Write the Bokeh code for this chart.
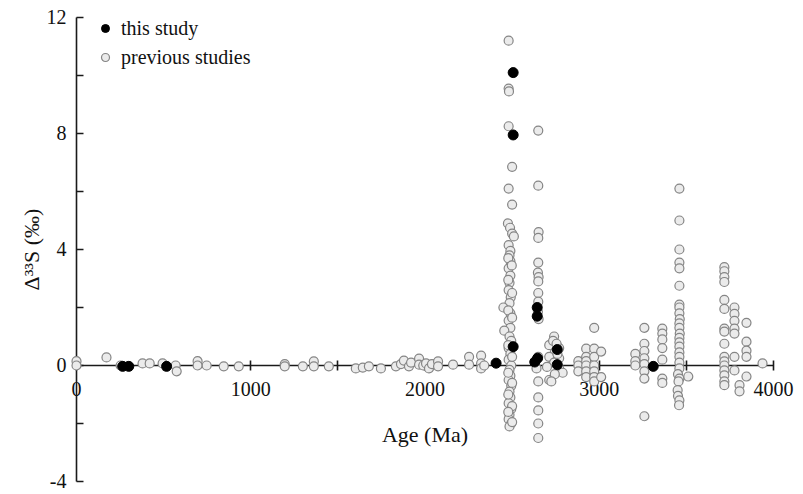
from bokeh.plotting import figure
from bokeh.models import LinearAxis, FixedTicker, Legend, LegendItem, ColumnDataSource
from bokeh.embed import file_html
from bokeh.resources import INLINE

# ---------------- data (age in Ma, Δ33S in ‰) ----------------
x_major_ticks = [0, 1000, 2000, 3000, 4000]
x_minor_ticks = [500, 1500, 2500, 3500]
y_major_ticks = [-4, 0, 4, 8, 12]
y_minor_ticks = [-2, 2, 6, 10]
y_tick_labels = {-4: "-4", 0: "0", 4: "4", 8: "8", 12: "12"}

this_study = [
    (265, -0.03), (300, -0.03), (517, -0.03), (2408, 0.08), (2506, 10.1),
    (2506, 7.95), (2506, 0.65), (2644, 2.0), (2644, 1.7), (2646, 0.25),
    (2630, 0.12), (2759, 0.55), (2759, 0.03), (3310, -0.03),
]

prev_baseline = [
    (0, 0.15), (0, 0.0), (172, 0.28), (253, 0.0), (379, 0.07), (420, 0.07),
    (494, 0.07), (569, 0.0), (575, -0.2), (695, 0.15), (695, 0.0), (747, 0.0),
    (845, -0.03), (931, -0.03), (1195, 0.05), (1195, -0.03), (1299, -0.03),
    (1362, 0.14), (1362, -0.03), (1448, -0.03), (1603, -0.1), (1643, -0.07),
    (1678, -0.03), (1747, -0.1), (1833, -0.03), (1862, 0.05), (1879, 0.17),
    (1908, -0.03), (1920, 0.1), (1966, 0.24), (1966, 0.03), (1990, 0.0),
    (2006, 0.07), (2023, -0.1), (2040, 0.05), (2075, 0.14), (2075, -0.03),
    (2161, 0.03), (2253, 0.3), (2253, 0.03), (2322, 0.34), (2322, 0.07),
    (2322, -0.1), (2340, 0.0),
]

prev_2480 = [
    (2480, 11.2), (2480, 9.55), (2482, 9.45), (2480, 8.25), (2500, 6.85),
    (2480, 6.1), (2500, 5.55), (2476, 4.9), (2488, 4.75), (2500, 4.55),
    (2510, 4.45), (2480, 4.15), (2490, 3.95), (2485, 3.8), (2490, 3.6),
    (2480, 3.35), (2490, 3.1), (2485, 2.85), (2480, 2.6), (2492, 2.35),
    (2485, 2.15), (2450, 2.0), (2490, 1.8), (2480, 1.55), (2490, 1.3),
    (2455, 1.2), (2485, 1.0), (2495, 0.85), (2480, 0.6), (2490, 0.4),
    (2480, 0.2), (2495, 0.0), (2485, -0.15), (2490, -0.35), (2480, -0.5),
    (2495, -0.7), (2485, -0.9), (2490, -1.1), (2480, -1.3), (2495, -1.5),
    (2485, -1.7), (2480, -1.85), (2495, -2.0), (2485, -2.1), (2478, 3.7),
    (2498, 3.45), (2478, 2.95), (2500, 2.5), (2478, 1.9), (2500, 1.65),
    (2478, 0.7), (2500, 0.3), (2478, -0.25), (2500, -0.6), (2478, -1.0),
    (2500, -1.4), (2478, -1.6), (2500, -1.95),
]

prev_2650 = [
    (2650, 8.1), (2650, 6.2), (2652, 4.6), (2650, 4.4), (2650, 3.55),
    (2648, 3.2), (2652, 3.05), (2650, 2.9), (2650, 2.5), (2650, 2.2),
    (2648, 1.85), (2652, 1.6), (2650, 0.3), (2640, -0.1), (2650, -0.55),
    (2650, -1.1), (2650, -1.55), (2650, -2.0), (2650, -2.5),
]

prev_2750 = [
    (2713, 0.7), (2741, 1.0), (2735, 0.85), (2770, 0.6), (2745, 0.45),
    (2713, 0.3), (2770, 0.25), (2741, 0.1), (2770, -0.1), (2790, -0.25),
    (2713, -0.5), (2745, -0.3), (2700, -0.05), (2725, -0.55), (2760, 0.4),
    (2755, 0.75),
]

prev_2950 = [
    (2880, 0.15), (2880, 0.0), (2880, -0.2), (2925, 0.58), (2925, 0.3),
    (2925, 0.15), (2925, 0.0), (2925, -0.2), (2925, -0.4), (2971, 1.3),
    (2971, 0.58), (2971, 0.3), (2971, 0.0), (2971, -0.2), (2971, -0.4),
    (2971, -0.55), (3011, 0.48), (3011, -0.4),
]

prev_3250 = [
    (3207, 0.4), (3207, 0.15), (3207, 0.0), (3259, 1.3), (3259, 0.75),
    (3259, 0.5), (3259, 0.25), (3259, 0.05), (3259, -0.2), (3259, -0.45),
    (3259, -1.75), (3362, 1.27), (3362, 1.1), (3362, 0.9), (3362, 0.6),
    (3362, 0.2), (3362, -0.45), (3362, -0.6),
]

prev_3460 = [
    (3460, 6.1), (3460, 5.0), (3460, 4.0), (3460, 3.55), (3460, 3.35),
    (3460, 2.75), (3460, 2.1), (3460, 2.0), (3460, 1.8), (3462, 1.6),
    (3460, 1.45), (3460, 1.3), (3462, 1.1), (3460, 0.95), (3460, 0.8),
    (3460, 0.65), (3460, 0.45), (3460, 0.3), (3460, 0.1), (3460, -0.1),
    (3452, -0.3), (3460, -0.45), (3455, -0.55), (3450, -0.85), (3452, -1.05),
    (3460, -1.2), (3458, -1.37), (3511, -0.38),
]

prev_3750 = [
    (3718, 3.39), (3718, 3.25), (3718, 3.05), (3718, 2.88), (3718, 2.26),
    (3718, 1.95), (3718, 1.27), (3718, 1.17), (3718, 0.75), (3718, 0.3),
    (3718, 0.14), (3718, 0.0), (3718, -0.17), (3718, -0.34), (3718, -0.55),
    (3718, -0.68), (3776, 2.0), (3776, 1.78), (3776, 1.54), (3776, 1.27),
    (3776, 1.1), (3776, 0.3), (3776, -0.17), (3805, -0.68), (3805, -0.89),
    (3845, 1.47), (3845, 0.82), (3845, 0.51), (3845, 0.3), (3845, -0.38),
    (3937, 0.07),
]

previous_studies = (prev_baseline + prev_2480 + prev_2650 + prev_2750 +
                    prev_2950 + prev_3250 + prev_3460 + prev_3750)

FONT = "Liberation Serif"

src_prev = ColumnDataSource(dict(age=[a for a, _ in previous_studies],
                                 d33s=[v for _, v in previous_studies]))
src_this = ColumnDataSource(dict(age=[a for a, _ in this_study],
                                 d33s=[v for _, v in this_study]))

p = figure(width=795, height=494, x_range=(-436.2, 4126.3),
           y_range=(-4.4483, 12.5862), output_backend="svg",
           toolbar_location=None, min_border=0, title=None,
           x_axis_type=None, y_axis_type=None)
p.outline_line_color = None
p.background_fill_color = "white"
p.border_fill_color = "white"

r_prev = p.scatter("age", "d33s", source=src_prev, size=9,
                   fill_color="#ebebeb", line_color="#858585", line_width=1.2)
r_this = p.scatter("age", "d33s", source=src_this, size=10,
                   fill_color="black", line_color="black", line_width=1)

xaxis = LinearAxis(fixed_location=0, bounds=(0, 4000),
                   ticker=FixedTicker(ticks=x_major_ticks, minor_ticks=x_minor_ticks),
                   axis_label="Age (Ma)")
yaxis = LinearAxis(fixed_location=0, bounds=(-4, 12),
                   ticker=FixedTicker(ticks=y_major_ticks, minor_ticks=y_minor_ticks),
                   axis_label="Δ³³S (‰)")
yaxis.major_label_overrides = y_tick_labels

for ax in (xaxis, yaxis):
    ax.axis_line_color = "#1a1a1a"
    ax.axis_line_width = 1.6
    ax.major_tick_line_color = "#1a1a1a"
    ax.minor_tick_line_color = "#1a1a1a"
    ax.major_tick_line_width = 1.6
    ax.minor_tick_line_width = 1.6
    ax.major_label_text_font = FONT
    ax.major_label_text_font_size = "20px"
    ax.major_label_text_color = "#111111"
    ax.axis_label_text_font = FONT
    ax.axis_label_text_font_size = "22px"
    ax.axis_label_text_font_style = "normal"
    ax.axis_label_text_color = "#111111"
    ax.level = "underlay"

xaxis.major_tick_in = 5
xaxis.major_tick_out = 5
xaxis.minor_tick_in = 5
xaxis.minor_tick_out = 5
xaxis.major_label_standoff = 12
xaxis.axis_label_standoff = 22

yaxis.major_tick_in = 7
yaxis.major_tick_out = 0
yaxis.minor_tick_in = 7
yaxis.minor_tick_out = 0
yaxis.major_label_standoff = 10
yaxis.axis_label_standoff = 0

p.add_layout(xaxis, "below")
p.add_layout(yaxis, "left")

legend = Legend(items=[LegendItem(label="this study", renderers=[r_this]),
                       LegendItem(label="previous studies", renderers=[r_prev])],
                location=(95, 425), orientation="vertical",
                border_line_color=None, background_fill_alpha=0,
                padding=0, margin=0, spacing=5,
                glyph_width=20, glyph_height=24, label_standoff=6,
                label_text_font=FONT, label_text_font_size="20px",
                label_text_color="#111111")
p.add_layout(legend)

open("out.html", "w").write(file_html(p, INLINE))
